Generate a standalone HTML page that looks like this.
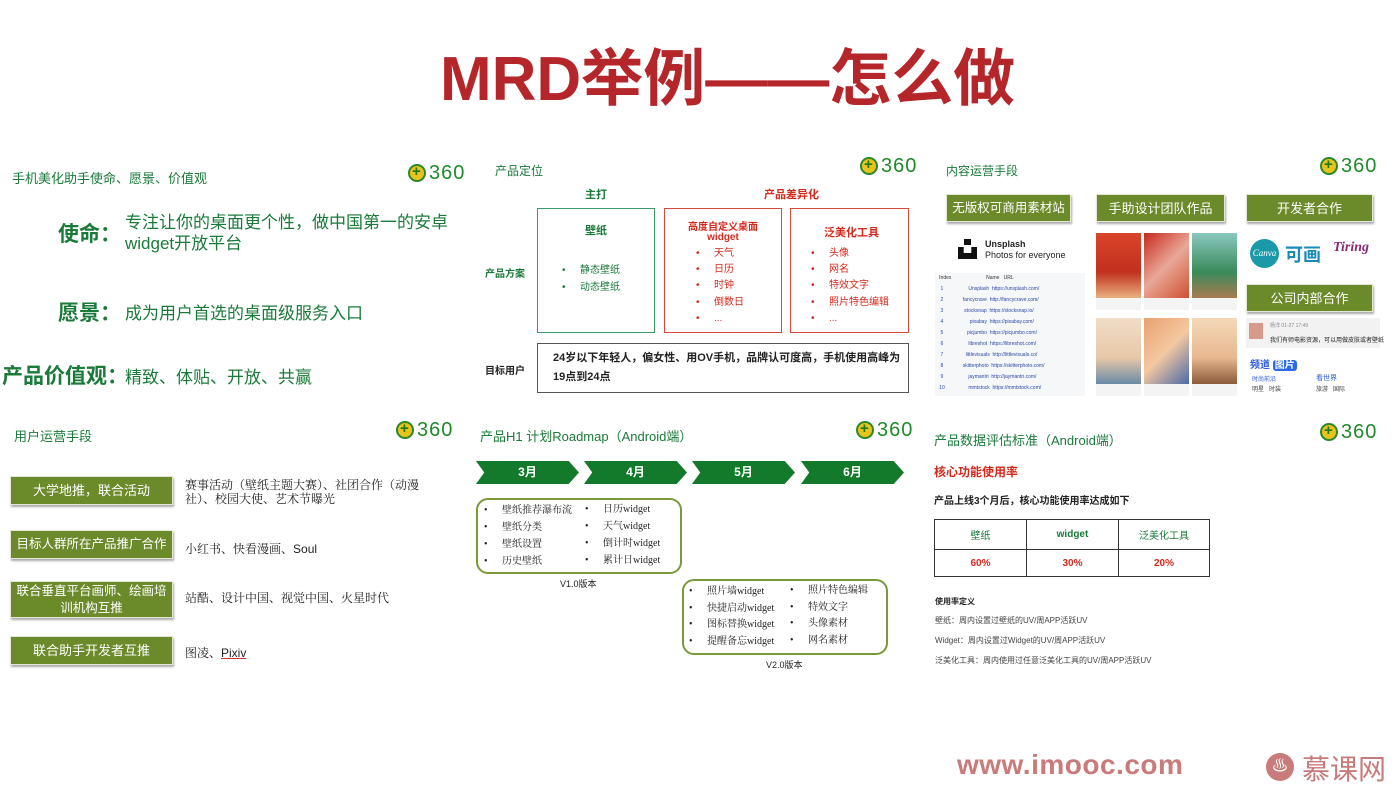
<!DOCTYPE html>
<html><head><meta charset="utf-8">
<style>
*{margin:0;padding:0;box-sizing:border-box}
body{width:1400px;height:786px;background:#fff;position:relative;overflow:hidden;font-family:"Liberation Sans","Noto Sans CJK SC",sans-serif;color:#222}
.a{position:absolute;white-space:nowrap}
.g{color:#1a7a3a}
.r{color:#d42a1e}
.logo{position:absolute;height:20px;width:66px}
.logo i{position:absolute;left:0;top:1px;width:18px;height:18px;border-radius:50%;background:#e9c21b;border:2px solid #2a8a2a}
.logo i:before{content:"+";position:absolute;left:2px;top:-3px;font:bold 15px/18px "Liberation Sans";color:#1a7a1a}
.logo b{position:absolute;left:21px;top:-1px;font:20px/22px "Liberation Sans";color:#1f8a2a;letter-spacing:1px}
.btn{position:absolute;background:#6b8a2a;color:#fff;text-align:center;box-shadow:1px 2px 2px #aaa;border:1px solid #e6e6d8;font-size:13px;display:flex;align-items:center;justify-content:center;line-height:17px;white-space:nowrap}
.box{position:absolute}
.li{position:absolute;font-size:10px;line-height:12px;white-space:nowrap}
.li:before{content:"•";position:absolute;left:-18px;top:0}
.arrow{position:absolute;height:23px;background:#127a2a;clip-path:polygon(0 0,90% 0,100% 50%,90% 100%,0 100%,8% 50%);color:#fff;font-size:12px;font-weight:bold;text-align:center;line-height:23px}
.sf{font-family:'Liberation Serif','Noto Serif CJK SC',serif}
</style></head><body>

<div class="a" style="left:440px;top:42px;font-size:62px;line-height:76px;font-weight:bold;color:#b5262a">MRD举例——怎么做</div>

<!-- section 1 -->
<div class="a g" style="left:12px;top:168px;font-size:13px">手机美化助手使命、愿景、价值观</div>
<div class="logo" style="left:408px;top:163px"><i></i><b>360</b></div>
<div class="a g" style="left:58px;top:218px;font-size:21px;font-weight:bold">使命：</div>
<div class="a g" style="left:125px;top:212px;font-size:17px;line-height:21px">专注让你的桌面更个性，做中国第一的安卓<br>widget开放平台</div>
<div class="a g" style="left:58px;top:297px;font-size:21px;font-weight:bold">愿景：</div>
<div class="a g" style="left:125px;top:299px;font-size:17px">成为用户首选的桌面级服务入口</div>
<div class="a g" style="left:2px;top:360px;font-size:21px;font-weight:bold">产品价值观：</div>
<div class="a g" style="left:125px;top:363px;font-size:17px">精致、体贴、开放、共赢</div>

<!-- section 2 -->
<div class="a g" style="left:495px;top:162px;font-size:12px">产品定位</div>
<div class="logo" style="left:860px;top:156px"><i></i><b>360</b></div>
<div class="a g" style="left:585px;top:186px;font-size:11px;font-weight:bold">主打</div>
<div class="a r" style="left:764px;top:186px;font-size:11px;font-weight:bold">产品差异化</div>
<div class="box" style="left:537px;top:208px;width:118px;height:125px;border:1px solid #3a9a6a"></div>
<div class="box" style="left:664px;top:208px;width:118px;height:125px;border:1px solid #d64a3a"></div>
<div class="box" style="left:790px;top:208px;width:119px;height:125px;border:1px solid #d64a3a"></div>
<div class="a g" style="left:585px;top:222px;font-size:11px;font-weight:bold">壁纸</div>
<div class="li g" style="left:580px;top:265px">静态壁纸</div>
<div class="li g" style="left:580px;top:282px">动态壁纸</div>
<div class="a r" style="left:664px;top:223px;width:118px;text-align:center;font-size:10px;font-weight:bold;line-height:10px">高度自定义桌面<br>widget</div>
<div class="li r" style="left:714px;top:248px">天气</div>
<div class="li r" style="left:714px;top:264px">日历</div>
<div class="li r" style="left:714px;top:280px">时钟</div>
<div class="li r" style="left:714px;top:297px">倒数日</div>
<div class="li r" style="left:714px;top:313px">...</div>
<div class="a r" style="left:824px;top:224px;font-size:11px;font-weight:bold">泛美化工具</div>
<div class="li r" style="left:829px;top:248px">头像</div>
<div class="li r" style="left:829px;top:264px">网名</div>
<div class="li r" style="left:829px;top:280px">特效文字</div>
<div class="li r" style="left:829px;top:297px">照片特色编辑</div>
<div class="li r" style="left:829px;top:313px">...</div>
<div class="a g" style="left:485px;top:265px;font-size:10px;font-weight:bold">产品方案</div>
<div class="box" style="left:537px;top:343px;width:372px;height:50px;border:1px solid #555"></div>
<div class="a" style="left:485px;top:362px;font-size:10px;font-weight:bold">目标用户</div>
<div class="a" style="left:553px;top:349px;font-size:11px;font-weight:bold;line-height:19px">24岁以下年轻人，偏女性、用OV手机，品牌认可度高，手机使用高峰为<br>19点到24点</div>

<!-- section 3 -->
<div class="a g" style="left:946px;top:162px;font-size:12px">内容运营手段</div>
<div class="logo" style="left:1320px;top:156px"><i></i><b>360</b></div>
<div class="btn" style="left:946px;top:194px;width:125px;height:28px;font-size:12.5px">无版权可商用素材站</div>
<div class="btn" style="left:1096px;top:194px;width:129px;height:28px">手助设计团队作品</div>
<div class="btn" style="left:1246px;top:194px;width:127px;height:28px">开发者合作</div>
<div class="btn" style="left:1246px;top:284px;width:127px;height:28px">公司内部合作</div>
<div class="a" style="left:958px;top:239px;width:19px;height:20px;background:#111;clip-path:polygon(0 40%,30% 40%,30% 70%,70% 70%,70% 40%,100% 40%,100% 100%,0 100%)"></div>
<div class="a" style="left:964px;top:239px;width:7px;height:6px;background:#111"></div>
<div class="a" style="left:985px;top:239px;font-size:9px;font-weight:bold;line-height:11px">Unsplash<br><span style="font-weight:normal">Photos for everyone</span></div>
<div class="a" style="left:935px;top:273px;width:150px;height:123px;background:#f6f7f9;font-size:5px;color:#2a4aa8;line-height:11px">
<div style="color:#333">&nbsp;&nbsp;&nbsp;Index&nbsp;&nbsp;&nbsp;&nbsp;&nbsp;&nbsp;&nbsp;&nbsp;&nbsp;&nbsp;&nbsp;&nbsp;&nbsp;&nbsp;&nbsp;&nbsp;&nbsp;&nbsp;&nbsp;&nbsp;&nbsp;&nbsp;&nbsp;&nbsp;&nbsp;Name&nbsp;&nbsp;&nbsp;URL</div>
<div>&nbsp;&nbsp;&nbsp;&nbsp;1&nbsp;&nbsp;&nbsp;&nbsp;&nbsp;&nbsp;&nbsp;&nbsp;&nbsp;&nbsp;&nbsp;&nbsp;&nbsp;&nbsp;&nbsp;&nbsp;&nbsp;&nbsp;Unsplash&nbsp;&nbsp;https://unsplash.com/</div>
<div>&nbsp;&nbsp;&nbsp;&nbsp;2&nbsp;&nbsp;&nbsp;&nbsp;&nbsp;&nbsp;&nbsp;&nbsp;&nbsp;&nbsp;&nbsp;&nbsp;&nbsp;&nbsp;fancycrave&nbsp;&nbsp;http://fancycrave.com/</div>
<div>&nbsp;&nbsp;&nbsp;&nbsp;3&nbsp;&nbsp;&nbsp;&nbsp;&nbsp;&nbsp;&nbsp;&nbsp;&nbsp;&nbsp;&nbsp;&nbsp;&nbsp;&nbsp;&nbsp;stocksnap&nbsp;&nbsp;https://stocksnap.io/</div>
<div>&nbsp;&nbsp;&nbsp;&nbsp;4&nbsp;&nbsp;&nbsp;&nbsp;&nbsp;&nbsp;&nbsp;&nbsp;&nbsp;&nbsp;&nbsp;&nbsp;&nbsp;&nbsp;&nbsp;&nbsp;&nbsp;&nbsp;&nbsp;pixabay&nbsp;&nbsp;https://pixabay.com/</div>
<div>&nbsp;&nbsp;&nbsp;&nbsp;5&nbsp;&nbsp;&nbsp;&nbsp;&nbsp;&nbsp;&nbsp;&nbsp;&nbsp;&nbsp;&nbsp;&nbsp;&nbsp;&nbsp;&nbsp;&nbsp;&nbsp;picjumbo&nbsp;&nbsp;https://picjumbo.com/</div>
<div>&nbsp;&nbsp;&nbsp;&nbsp;6&nbsp;&nbsp;&nbsp;&nbsp;&nbsp;&nbsp;&nbsp;&nbsp;&nbsp;&nbsp;&nbsp;&nbsp;&nbsp;&nbsp;&nbsp;&nbsp;&nbsp;&nbsp;libreshot&nbsp;&nbsp;https://libreshot.com/</div>
<div>&nbsp;&nbsp;&nbsp;&nbsp;7&nbsp;&nbsp;&nbsp;&nbsp;&nbsp;&nbsp;&nbsp;&nbsp;&nbsp;&nbsp;&nbsp;&nbsp;&nbsp;&nbsp;&nbsp;&nbsp;littlevisuals&nbsp;&nbsp;http://littlevisuals.co/</div>
<div>&nbsp;&nbsp;&nbsp;&nbsp;8&nbsp;&nbsp;&nbsp;&nbsp;&nbsp;&nbsp;&nbsp;&nbsp;&nbsp;&nbsp;&nbsp;&nbsp;&nbsp;&nbsp;skitterphoto&nbsp;&nbsp;https://skitterphoto.com/</div>
<div>&nbsp;&nbsp;&nbsp;&nbsp;9&nbsp;&nbsp;&nbsp;&nbsp;&nbsp;&nbsp;&nbsp;&nbsp;&nbsp;&nbsp;&nbsp;&nbsp;&nbsp;&nbsp;&nbsp;&nbsp;&nbsp;&nbsp;jaymantri&nbsp;&nbsp;http://jaymantri.com/</div>
<div>&nbsp;&nbsp;&nbsp;10&nbsp;&nbsp;&nbsp;&nbsp;&nbsp;&nbsp;&nbsp;&nbsp;&nbsp;&nbsp;&nbsp;&nbsp;&nbsp;&nbsp;&nbsp;&nbsp;&nbsp;mmtstock&nbsp;&nbsp;https://mmtstock.com/</div>
</div>
<!-- posters -->
<div class="a" style="left:1096px;top:233px;width:45px;height:65px;background:linear-gradient(#d8452a,#c2301e 60%,#e8b080)"></div>
<div class="a" style="left:1144px;top:233px;width:45px;height:65px;background:linear-gradient(135deg,#c8281e,#e8a898 50%,#d05030)"></div>
<div class="a" style="left:1192px;top:233px;width:45px;height:65px;background:linear-gradient(#8ac8c0,#3a8a5a 60%,#a87a50)"></div>
<div class="a" style="left:1096px;top:318px;width:45px;height:66px;background:linear-gradient(#f0dcc8,#e8c8a8 60%,#6a8aa8)"></div>
<div class="a" style="left:1144px;top:318px;width:45px;height:66px;background:linear-gradient(135deg,#e8a070,#f4c8a0 50%,#4a6aa8)"></div>
<div class="a" style="left:1192px;top:318px;width:45px;height:66px;background:linear-gradient(#f4d8b8,#e8b890 60%,#8a5a3a)"></div>
<div class="a" style="left:1096px;top:298px;width:45px;height:12px;background:#f4f4f4"></div>
<div class="a" style="left:1144px;top:298px;width:45px;height:12px;background:#f4f4f4"></div>
<div class="a" style="left:1192px;top:298px;width:45px;height:12px;background:#f4f4f4"></div>
<div class="a" style="left:1096px;top:384px;width:45px;height:12px;background:#f4f4f4"></div>
<div class="a" style="left:1144px;top:384px;width:45px;height:12px;background:#f4f4f4"></div>
<div class="a" style="left:1192px;top:384px;width:45px;height:12px;background:#f4f4f4"></div>
<div class="a" style="left:1250px;top:239px;width:29px;height:29px;border-radius:50%;background:#1a9aa8;color:#fff;font:italic 9px 'Liberation Serif';line-height:29px;text-align:center">Canva</div>
<div class="a" style="left:1285px;top:241px;font-size:18px;color:#1a8ab8;font-weight:bold">可画</div>
<div class="a" style="left:1333px;top:240px;font:italic bold 14px 'Liberation Serif';color:#8a2a7a">Tiring</div>
<div class="a" style="left:1246px;top:318px;width:134px;height:30px;background:#f2f2f2"></div>
<div class="a" style="left:1249px;top:323px;width:14px;height:16px;background:#d89a8a"></div>
<div class="a" style="left:1270px;top:322px;font-size:5px;color:#888">杨洋 01-27 17:49</div>
<div class="a" style="left:1270px;top:335px;font-size:6px">我们有师电影资源，可以用做皮肤或者壁纸</div>
<div class="a" style="left:1250px;top:356px;font-size:10px;font-weight:bold;color:#2a5ad8">频道 <span style="background:#2a6ae8;color:#fff;border-radius:3px;padding:0 2px">图片</span></div>
<div class="a" style="left:1252px;top:375px;font-size:6px;color:#2a5ad8;line-height:10px">时尚前沿<br><span style="color:#444">明星&nbsp;&nbsp;&nbsp;时装</span></div>
<div class="a" style="left:1316px;top:373px;font-size:7px;color:#2a5ad8;line-height:11px">看世界<br><span style="color:#444;font-size:6px">旅游&nbsp;&nbsp;&nbsp;国际</span></div>

<!-- section 4 -->
<div class="a g" style="left:14px;top:426px;font-size:13px">用户运营手段</div>
<div class="logo" style="left:396px;top:420px"><i></i><b>360</b></div>
<div class="btn" style="left:10px;top:476px;width:163px;height:29px">大学地推，联合活动</div>
<div class="btn" style="left:10px;top:530px;width:163px;height:29px;font-size:12.5px">目标人群所在产品推广合作</div>
<div class="btn" style="left:10px;top:581px;width:163px;height:37px;font-size:12.5px;white-space:normal;padding:0 4px">联合垂直平台画师、绘画培训机构互推</div>
<div class="btn" style="left:10px;top:636px;width:163px;height:29px">联合助手开发者互推</div>
<div class="a sf" style="left:185px;top:478px;font-size:12px;line-height:14px">赛事活动（壁纸主题大赛）、社团合作（动漫<br>社）、校园大使、艺术节曝光</div>
<div class="a sf" style="left:185px;top:540px;font-size:12px">小红书、快看漫画、<span style="font-family:'Liberation Sans'">Soul</span></div>
<div class="a sf" style="left:185px;top:589px;font-size:12px">站酷、设计中国、视觉中国、火星时代</div>
<div class="a sf" style="left:185px;top:644px;font-size:12px">图凌、<span style="font-family:'Liberation Sans';text-decoration:underline;text-decoration-color:#c33">Pixiv</span></div>

<!-- section 5 -->
<div class="a g" style="left:480px;top:426px;font-size:13px">产品H1 计划Roadmap（Android端）</div>
<div class="logo" style="left:856px;top:420px"><i></i><b>360</b></div>
<div class="arrow" style="left:476px;top:461px;width:103px">3月</div>
<div class="arrow" style="left:584px;top:461px;width:103px">4月</div>
<div class="arrow" style="left:692px;top:461px;width:103px">5月</div>
<div class="arrow" style="left:801px;top:461px;width:103px">6月</div>
<div class="box" style="left:476px;top:498px;width:206px;height:76px;border:2px solid #7a9a3a;border-radius:12px"></div>
<div class="li sf" style="left:502px;top:505px">壁纸推荐瀑布流</div>
<div class="li sf" style="left:502px;top:522px">壁纸分类</div>
<div class="li sf" style="left:502px;top:539px">壁纸设置</div>
<div class="li sf" style="left:502px;top:556px">历史壁纸</div>
<div class="li sf" style="left:603px;top:504px">日历widget</div>
<div class="li sf" style="left:603px;top:521px">天气widget</div>
<div class="li sf" style="left:603px;top:538px">倒计时widget</div>
<div class="li sf" style="left:603px;top:555px">累计日widget</div>
<div class="a" style="left:560px;top:577px;font-size:9px">V1.0版本</div>
<div class="box" style="left:682px;top:579px;width:206px;height:76px;border:2px solid #7a9a3a;border-radius:12px"></div>
<div class="li sf" style="left:707px;top:586px">照片墙widget</div>
<div class="li sf" style="left:707px;top:603px">快捷启动widget</div>
<div class="li sf" style="left:707px;top:619px">图标替换widget</div>
<div class="li sf" style="left:707px;top:636px">提醒备忘widget</div>
<div class="li sf" style="left:808px;top:585px">照片特色编辑</div>
<div class="li sf" style="left:808px;top:602px">特效文字</div>
<div class="li sf" style="left:808px;top:618px">头像素材</div>
<div class="li sf" style="left:808px;top:635px">网名素材</div>
<div class="a" style="left:766px;top:658px;font-size:9px">V2.0版本</div>

<!-- section 6 -->
<div class="a g" style="left:934px;top:430px;font-size:13px">产品数据评估标准（Android端）</div>
<div class="logo" style="left:1320px;top:422px"><i></i><b>360</b></div>
<div class="a r" style="left:934px;top:463px;font-size:12px;font-weight:bold">核心功能使用率</div>
<div class="a" style="left:934px;top:492px;font-size:10px;font-weight:bold">产品上线3个月后，核心功能使用率达成如下</div>
<table class="a" style="left:934px;top:519px;width:276px;height:58px;border-collapse:collapse;font-size:10px;text-align:center">
<tr style="height:30px"><td style="border:1px solid #333;width:92px" class="g">壁纸</td><td style="border:1px solid #333;width:92px;font-weight:bold" class="g">widget</td><td style="border:1px solid #333" class="g">泛美化工具</td></tr>
<tr><td style="border:1px solid #333;font-weight:bold" class="r">60%</td><td style="border:1px solid #333;font-weight:bold" class="r">30%</td><td style="border:1px solid #333;font-weight:bold" class="r">20%</td></tr>
</table>
<div class="a" style="left:935px;top:596px;font-size:8px;font-weight:bold">使用率定义</div>
<div class="a" style="left:935px;top:615px;font-size:8px;color:#444">壁纸：周内设置过壁纸的UV/周APP活跃UV</div>
<div class="a" style="left:935px;top:635px;font-size:8px;color:#444">Widget：周内设置过Widget的UV/周APP活跃UV</div>
<div class="a" style="left:935px;top:655px;font-size:8px;color:#444">泛美化工具：周内使用过任意泛美化工具的UV/周APP活跃UV</div>

<!-- footer -->
<div class="a" style="left:957px;top:749px;font-size:28px;font-weight:bold;color:#c97a7a;letter-spacing:0.5px">www.imooc.com</div>
<div class="a" style="left:1266px;top:753px;width:28px;height:28px;border-radius:50%;background:#c97a7a;color:#fff;font-size:16px;text-align:center;line-height:28px">♨</div>
<div class="a" style="left:1302px;top:748px;font-size:28px;color:#c97a7a">慕课网</div>
</body></html>
